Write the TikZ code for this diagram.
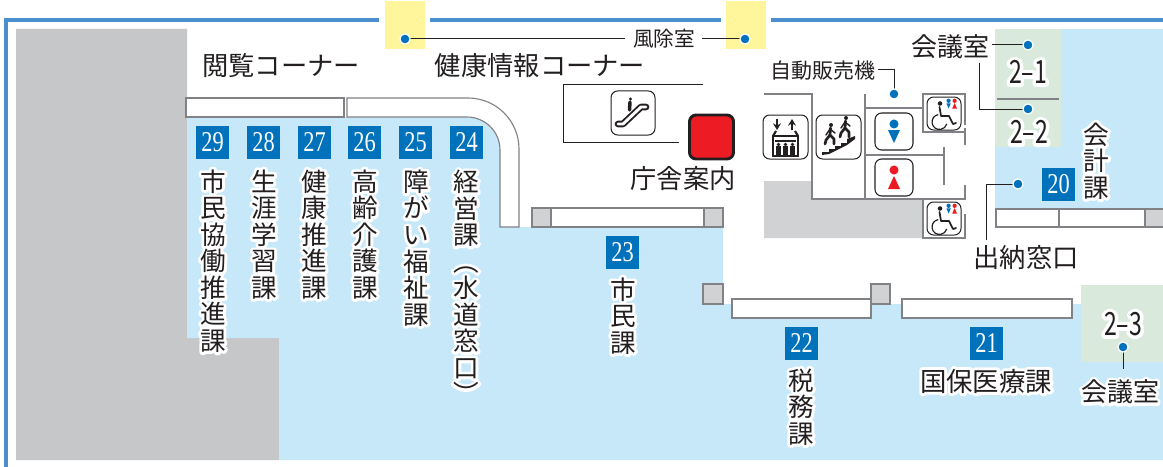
\documentclass[tikz,border=0pt]{standalone}
\usepackage{fontspec}
\usetikzlibrary{arrows.meta}
\newfontfamily\jp{Noto Sans CJK JP}
\newfontfamily\jphalo[FakeBold=22]{Noto Sans CJK JP}
\newfontfamily\cnd[FakeStretch=0.72]{Noto Sans CJK JP}
\newfontfamily\cndhalo[FakeStretch=0.72,FakeBold=22]{Noto Sans CJK JP}
\newfontfamily\numf[FakeStretch=0.78]{Liberation Serif}
\definecolor{frameblue}{HTML}{4A90CF}
\definecolor{floorblue}{HTML}{C6E8F9}
\definecolor{roomgreen}{HTML}{D9EADD}
\definecolor{porch}{HTML}{FFF69B}
\definecolor{grayA}{HTML}{C6C7C9}
\definecolor{grayB}{HTML}{D0D2D3}
\definecolor{wall}{HTML}{808285}
\definecolor{ink}{HTML}{231F20}
\definecolor{badge}{HTML}{0072BC}
\definecolor{signred}{HTML}{ED1C24}
\tikzset{
  x=0.75pt,y=-0.75pt,
  wallline/.style={draw=wall,line width=0.95pt},
  desk/.style={draw=wall,fill=white,line width=0.95pt},
  post/.style={draw=wall,fill=grayB,line width=0.8pt},
  lead/.style={draw=ink,line width=0.75pt},
  dot/.style={circle,fill=badge,draw=white,line width=0.9pt,minimum size=7.6pt,inner sep=0pt},
  badgebox/.style={fill=badge,text=white,minimum size=24.75pt,inner sep=0pt,font=\numf\fontsize{21.5}{21.5}\selectfont},
  lbl/.style={inner sep=0pt,align=center,text=ink},
  halo/.style={inner sep=0pt,align=center,text=white},
  iconbox/.style={draw=ink,fill=white,line width=0.75pt,rounded corners=5pt},
}
% name, x, y, size(pt), text
\newcommand\plain[5]{\node[lbl,font=\jp\fontsize{#4}{#4}\selectfont] (#1) at (#2,#3) {#5};}
\newcommand\haloed[5]{%
  \node[halo,font=\jphalo\fontsize{#4}{19.9}\selectfont] at (#2,#3) {\special{pdf:code 1 j 1 J}#5};
  \node[lbl,font=\jp\fontsize{#4}{19.9}\selectfont] (#1) at (#2,#3) {#5};}
\newcommand\room[4]{%
  \node[halo,font=\cndhalo\fontsize{24}{24}\selectfont] at (#2,#3) {\special{pdf:code 1 j 1 J}#4};
  \node[lbl,font=\cnd\fontsize{24}{24}\selectfont] (#1) at (#2,#3) {#4};}
\newcommand\wheelchair[2]{%
 \begin{scope}[shift={(#1,#2)}]
  \draw[iconbox] (0,0) rectangle (34,33);
  \fill[ink] (13,6.5) circle (1.7pt);
  \draw[ink,line width=1.3pt,line cap=round,line join=round] (12.5,10) -- (14,19) -- (22,19) -- (26,27) -- (29,26);
  \draw[ink,line width=0.9pt] (11.2,17.6) arc[start angle=-100,end angle=-345,radius=7.5];
  \fill[badge] (21.6,3.8) circle (1.6pt);
  \fill[badge] (19.4,6.4) -- (23.8,6.4) -- (21.6,11.5) -- cycle;
  \fill[signred] (27.6,3.8) circle (1.6pt);
  \fill[signred] (27.6,6) -- (30,11.5) -- (25.2,11.5) -- cycle;
 \end{scope}}
\newcommand\person[3]{%
 \begin{scope}[shift={(#1,#2)},scale=#3]
  \fill[ink] (1,-9) circle (1.5pt);
  \draw[ink,line width=2pt,line join=round,line cap=round] (0.5,-6) -- (0,1) -- (4,5) -- (4,10);
  \draw[ink,line width=2pt,line join=round,line cap=round] (0,1) -- (-4,6) -- (-5,10);
  \draw[ink,line width=1.1pt,line cap=round] (-4,1) -- (0,-5) -- (5,-1);
 \end{scope}}
\begin{document}
\begin{tikzpicture}
\useasboundingbox (0,0) rectangle (1163,467);
\fill[white] (0,0) rectangle (1163,467);
% floor
\fill[grayA] (16,29) -- (187,29) -- (187,338) -- (279,338) -- (279,460) -- (16,460) -- cycle;
\fill[floorblue] (187,117) -- (187,338) -- (279,338) -- (279,460) -- (1163,460) -- (1163,361) -- (1081,361) -- (1081,304) -- (723,304) -- (723,227) -- (500,227) -- (500,117) -- cycle;
\fill[floorblue] (995,29) rectangle (1163,228);
\fill[roomgreen] (995,29) rectangle (1061,147);
\fill[roomgreen] (1081,285) rectangle (1163,361.5);
\draw[wall,line width=0.95pt] (997,99) -- (1059,99);
% outer wall and porches
\fill[porch] (385,1) rectangle (425,49);
\fill[porch] (726,1) rectangle (766,49);
\draw[frameblue,line width=3pt] (6,467) -- (6,20) -- (379,20);
\draw[frameblue,line width=3pt] (430,20) -- (720.5,20);
\draw[frameblue,line width=3pt] (771,20) -- (1163,20);
% counters
\draw[desk] (186,98) rectangle (344,117);
\draw[desk,line width=0.85pt] (347,98) -- (468,98) arc[start angle=-90,end angle=0,radius=51] -- (519,227) -- (500,227) -- (500,150) arc[start angle=0,end angle=-90,radius=33] -- (347,117) -- cycle;
\draw[desk] (532,208) rectangle (723,227);
\draw[post] (532,208) rectangle (551,227);
\draw[post] (704,208) rectangle (723,227);
\draw[post] (703,284) rectangle (723,304);
\draw[post] (871,284) rectangle (890,304);
\draw[desk] (732,299) rectangle (871,318);
\draw[desk] (902,299) rectangle (1072,318);
\draw[desk] (996,209) rectangle (1059,227);
\draw[desk] (1059,209) rectangle (1145,227);
\draw[post] (1145,209) rectangle (1163.5,227);
% core
\fill[grayB] (764,181) -- (812,181) -- (812,199) -- (923,199) -- (923,238) -- (764,238) -- cycle;
\draw[wallline] (764,94) -- (812,94) -- (812,199) -- (923,199);
\draw[wallline] (865,94) -- (865,199);
\draw[wallline] (865,108) -- (923,108);
\draw[wallline] (865,155) -- (944,155);
\draw[wallline] (944,147) -- (944,185);
\draw[wallline] (965,132) -- (923,132) -- (923,94) -- (965,94) -- (965,125);
\draw[wallline] (965,128) -- (965,145);
\draw[wallline] (965,185) -- (965,199) -- (923,199) -- (923,238) -- (965,238) -- (965,214);
% escalator room
\draw[ink,line width=0.75pt] (703,85) -- (563,85) -- (563,142) -- (679,142);
% icons
\begin{scope}[shift={(611,91)}]
  \draw[iconbox] (0,0) rectangle (44,44);
  \draw[ink,line width=5pt,line join=round,line cap=round] (7,33) -- (12,33) -- (30,16) -- (35,16);
  \draw[white,line width=2.2pt,line join=round,line cap=round] (7,33) -- (12,33) -- (30,16) -- (35,16);
  \fill[ink] (19.5,8) circle (1.3pt);
  \draw[ink,line width=2.6pt,line cap=round] (19,11) -- (18.5,19);
\end{scope}
\begin{scope}[shift={(763,115)}]
  \draw[iconbox] (0,0) rectangle (45,44);
  \draw[ink,line width=1.4pt,-{Stealth[length=5pt,width=6pt]}] (14,4) -- (14,15);
  \draw[ink,line width=1.4pt,-{Stealth[length=5pt,width=6pt]}] (29,15) -- (29,4);
  \draw[ink,line width=2pt] (10,21) -- (10,41) -- (35,41) -- (35,21) -- cycle;
  \draw[ink,line width=1.6pt] (13,16) -- (10,21);
  \draw[ink,line width=1.6pt] (32,16) -- (35,21);
  \fill[ink] (12,25) rectangle (33,27);
  \foreach \px in {15.5,22.5,29.5}{\fill[ink] (\px,29.5) circle (1.4pt); \fill[ink] (\px-2.2,31) rectangle (\px+2.2,40);}
\end{scope}
\begin{scope}[shift={(816,115)}]
  \draw[iconbox] (0,0) rectangle (45,44);
  \fill[ink] (6,40) -- (6,37) -- (13,37) -- (13,34) -- (19,34) -- (19,31) -- (25,31) -- (25,28) -- (31,28) -- (31,24) -- (39,21) -- (39,24) -- (31,30) -- (25,33) -- (19,36) -- (13,39) -- cycle;
  \person{14}{19}{1}
  \person{29}{12}{1}
\end{scope}
\wheelchair{927}{97}
\wheelchair{927}{202}
\draw[iconbox,line width=0.8pt] (875,113) rectangle (913,150);
\fill[badge] (894,124) circle (3.4pt);
\fill[badge] (888,130) -- (900,130) -- (894,143) -- cycle;
\draw[iconbox,line width=0.8pt] (875,159) rectangle (913,196);
\fill[signred] (894,170) circle (3.4pt);
\fill[signred] (894,176) -- (900,189) -- (888,189) -- cycle;
\node[draw=ink,fill=signred,line width=2.2pt,rounded corners=5pt,minimum size=33pt,inner sep=0pt] (info) at (711.5,137) {};
% leader ends
\coordinate (d1) at (405,39);
\coordinate (d2) at (745,39);
\coordinate (d3) at (894,94);
\coordinate (d4) at (1028,45);
\coordinate (d5) at (1028,109);
\coordinate (d6) at (1018,184);
\coordinate (d7) at (1123,347);
\coordinate (e1) at (625,39);
\coordinate (e2) at (702,39);
\coordinate (e3) at (878,70);
\coordinate (e4) at (992,45);
\coordinate (e5) at (979,63);
\coordinate (e6) at (986,240);
\coordinate (e7) at (1123,369);
\draw[lead] (d1) -- (e1);
\draw[lead] (e2) -- (d2);
\draw[lead] (e3) -| (d3);
\draw[lead] (e4) -- (d4);
\draw[lead] (e5) |- (d5);
\draw[lead] (e6) |- (d6);
\draw[lead] (d7) -- (e7);
\foreach \d in {d1,d2,d3,d4,d5,d6,d7}{\node[dot] at (\d) {};}
% plain labels
\plain{corner1}{281}{66}{19.7}{閲覧コーナー}
\plain{corner2}{540}{66}{19.7}{健康情報コーナー}
\plain{windroom}{664}{39}{15.5}{風除室}
\plain{vending}{823}{71}{15.75}{自動販売機}
\plain{guide}{683}{179}{19.7}{庁舎案内}
\plain{meetA}{950}{47}{19.5}{会議室}
\plain{cashier}{1026}{258}{19.7}{出納窓口}
% badges
\node[badgebox] (b29) at (212.5,142.5) {29};
\node[badgebox] (b28) at (263.5,142.5) {28};
\node[badgebox] (b27) at (314.5,142.5) {27};
\node[badgebox] (b26) at (364.5,142.5) {26};
\node[badgebox] (b25) at (415.5,142.5) {25};
\node[badgebox] (b24) at (466.5,142.5) {24};
\node[badgebox] (b23) at (622.5,252.5) {23};
\node[badgebox] (b22) at (801.5,343.5) {22};
\node[badgebox] (b21) at (986.5,343.5) {21};
\node[badgebox] (b20) at (1058.5,184.5) {20};
% haloed labels
\haloed{s29}{213}{261}{19.2}{市\\民\\協\\働\\推\\進\\課}
\haloed{s28}{264}{234.5}{19.2}{生\\涯\\学\\習\\課}
\haloed{s27}{314}{234.5}{19.2}{健\\康\\推\\進\\課}
\haloed{s26}{365}{234.5}{19.2}{高\\齢\\介\\護\\課}
\haloed{s25}{416}{248}{19.2}{障\\が\\い\\福\\祉\\課}
\haloed{s24}{466}{287}{19.2}{経\\営\\課\\︵\\水\\道\\窓\\口\\︶}
\haloed{s23}{623}{316}{19.2}{市\\民\\課}
\haloed{s22}{801}{407}{19.2}{税\\務\\課}
\haloed{s20}{1096}{161}{19.2}{会\\計\\課}
\haloed{s21}{986}{381}{19.8}{国保医療課}
\haloed{meetB}{1120}{392}{19.5}{会議室}
\room{r21}{1028}{72}{2–1}
\room{r22}{1029}{132}{2–2}
\room{r23}{1123}{324}{2–3}
\end{tikzpicture}
\end{document}
